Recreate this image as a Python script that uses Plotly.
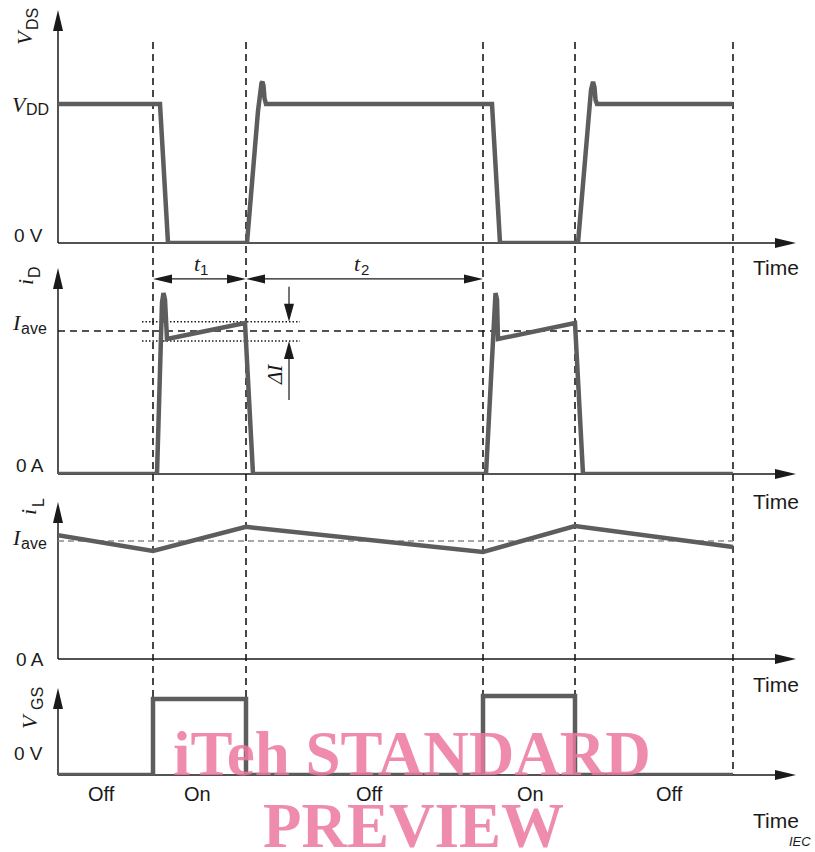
import plotly.graph_objects as go

# ---------------- data (time in arbitrary units, levels normalised) ----------------
switch_times = [9.5, 18.8, 42.5, 51.7, 67.5]          # on1, off1, on2, off2, end

t_vds = [0, 10.2, 11.0, 18.9, 20.0, 20.2, 20.35, 20.45, 20.55, 20.65, 20.8,
         43.4, 44.2, 52.0, 53.1, 53.3, 53.5, 53.65, 53.75, 53.9, 67.5]
v_vds = [1.0, 1.0, 0.0, 0.0, 0.95, 1.08, 1.15, 1.16, 1.13, 1.04, 1.0,
         1.0, 0.0, 0.0, 0.95, 1.1, 1.16, 1.12, 1.03, 1.0, 1.0]

t_id = [0, 9.9, 10.4, 10.55, 10.7, 10.9, 18.7, 19.5,
        42.8, 43.6, 43.75, 43.9, 44.0, 51.7, 52.5, 67.5]
v_id = [0.0, 0.0, 1.2, 1.265, 1.22, 0.944, 1.056, 0.0,
        0.0, 1.2, 1.265, 1.22, 0.944, 1.056, 0.0, 0.0]

t_il = [0, 9.5, 18.8, 42.5, 51.7, 67.5]
v_il = [1.05, 0.915, 1.12, 0.907, 1.127, 0.95]

t_vgs = [0, 9.5, 9.5, 18.8, 18.8, 42.5, 42.5, 51.7, 51.7, 67.5]
v_vgs = [0.0, 0.0, 1.0, 1.0, 0.0, 0.0, 1.04, 1.04, 0.0, 0.0]

i_ave = 1.0
delta_band = [0.93, 1.065]          # lower / upper dotted limits of ΔI
state_labels = ["Off", "On", "Off", "On", "Off"]
state_label_t = [4.3, 13.9, 31.1, 47.2, 61.1]

# ---------------- geometry helpers ----------------
W, H = 815, 852
ML, MR = 58, 19
PW = W - ML - MR
XR = [0, 73.8]
BASE = [243, 474, 659, 775]     # pixel rows of the four zero lines
UNIT = [139, 143, 118, 76]      # pixels per normalised unit
TOP = [10, 268, 502, 688]       # pixel rows of the y-arrow tips


def X(t):
    return ML + (t - XR[0]) / (XR[1] - XR[0]) * PW


def Y(k, v):
    return BASE[k] - v * UNIT[k]


def P(px, py):
    return (px - ML) / PW, 1 - py / H


AX = "#1a1a1a"
TRACE = "#5d5d5d"
shapes = []


def seg(x0, y0, x1, y1, color=AX, width=1.5, dash=None, layer="below"):
    a, b = P(x0, y0)
    c, d = P(x1, y1)
    line = dict(color=color, width=width)
    if dash:
        line["dash"] = dash
    shapes.append(dict(type="line", xref="paper", yref="paper", x0=a, y0=b, x1=c, y1=d,
                       line=line, layer=layer))


def head(tx, ty, dx, dy, L=20, Wd=10, color=AX):
    bx, by = tx - dx * L, ty - dy * L
    px_, py_ = -dy, dx
    pts = [(tx, ty), (bx + px_ * Wd / 2, by + py_ * Wd / 2), (bx - px_ * Wd / 2, by - py_ * Wd / 2)]
    pp = [P(x, y) for x, y in pts]
    path = "M {} {} L {} {} L {} {} Z".format(pp[0][0], pp[0][1], pp[1][0], pp[1][1], pp[2][0], pp[2][1])
    shapes.append(dict(type="path", xref="paper", yref="paper", path=path,
                       fillcolor=color, line=dict(width=0), layer="above"))


# axes with arrows
xtip = X(XR[1])
for k in range(4):
    seg(ML, BASE[k], ML, TOP[k] + 18)
    head(ML, TOP[k], 0, -1, L=21, Wd=10)
    seg(ML, BASE[k], xtip - 18, BASE[k])
    head(xtip, BASE[k], 1, 0, L=21, Wd=10)

# vertical dashed switching lines
for t in switch_times:
    seg(X(t), 42, X(t), BASE[3], width=1.6, dash="7px,5px")

# i_D panel guides
seg(ML, Y(1, i_ave), X(switch_times[-1]), Y(1, i_ave), width=1.6, dash="7px,5px")
for lv in delta_band:
    seg(X(8.4), Y(1, lv), X(24.2), Y(1, lv), width=1.4, dash="1.5px,2px")
xd = X(23.1)
seg(xd, Y(1, 1.31), xd, Y(1, delta_band[1]) - 16, width=1.2)
head(xd, Y(1, delta_band[1]), 0, 1, L=18, Wd=10)
seg(xd, Y(1, 0.517), xd, Y(1, delta_band[0]) + 16, width=1.2)
head(xd, Y(1, delta_band[0]), 0, -1, L=18, Wd=10)

# t1 / t2 dimension arrows
ya = Y(1, 1.364)
for a, b in [(switch_times[0], switch_times[1]), (switch_times[1], switch_times[2])]:
    seg(X(a) + 15, ya, X(b) - 15, ya, width=1.2)
    head(X(a), ya, -1, 0, L=19, Wd=9)
    head(X(b), ya, 1, 0, L=19, Wd=9)

# i_L panel average
seg(ML, Y(2, i_ave), X(switch_times[-1]), Y(2, i_ave), color="#8a8a8a", width=1.5, dash="6px,4px")

# ---------------- figure ----------------
fig = go.Figure()
series = [(t_vds, v_vds), (t_id, v_id), (t_il, v_il), (t_vgs, v_vgs)]
for k, (tx, vy) in enumerate(series):
    sfx = "" if k == 0 else str(k + 1)
    fig.add_trace(go.Scatter(x=tx, y=vy, mode="lines", xaxis="x" + sfx, yaxis="y" + sfx,
                             line=dict(color=TRACE, width=4.5), hoverinfo="skip",
                             showlegend=False))

layout_axes = {}
for k in range(4):
    sfx = "" if k == 0 else str(k + 1)
    layout_axes["xaxis" + sfx] = dict(domain=[0, 1], range=XR, visible=False,
                                      anchor="y" + sfx, fixedrange=True)
    layout_axes["yaxis" + sfx] = dict(domain=[1 - BASE[k] / H, 1 - TOP[k] / H],
                                      range=[0, (BASE[k] - TOP[k]) / UNIT[k]],
                                      visible=False, anchor="x" + sfx, fixedrange=True)

SANS = "Liberation Sans, Arial, sans-serif"
SERIF = "Liberation Serif, Times New Roman, serif"
annotations = []


def ann(px, py, text, size=19, family=SANS, angle=0, color="#1a1a1a",
        style="normal", weight="normal"):
    a, b = P(px, py)
    annotations.append(dict(x=a, y=b, xref="paper", yref="paper", text=text, showarrow=False,
                            xanchor="center", yanchor="middle", textangle=angle,
                            font=dict(family=family, size=size, color=color,
                                      style=style, weight=weight)))


def sym(px, py, s, size=22, angle=0):
    ann(px, py, s, size=size, family=SERIF, angle=angle, style="italic")


# y level labels: italic serif symbol + sans subscript
sym(20, 105, "V", 22)
ann(37, 110, "DD", 16)
ann(28, 235, "0 V", 19)
sym(17, 322, "I", 22)
ann(34, 328, "ave", 16)
ann(30, 465, "0 A", 19)
sym(17, 537, "I", 22)
ann(34, 543, "ave", 16)
ann(30, 659, "0 A", 19)
ann(28, 753, "0 V", 19)

# rotated axis names
sym(24, 37, "V", 22, angle=-90)
ann(32, 19, "DS", 16, angle=-90)
sym(25, 282, "i", 22, angle=-90)
ann(35, 272, "D", 16, angle=-90)
sym(28, 512, "i", 22, angle=-90)
ann(38, 503, "L", 16, angle=-90)
sym(29, 721, "V", 22, angle=-90)
ann(37, 699, "GS", 16, angle=-90)

# dimension labels
sym(197, 263, "t", 22)
ann(204, 269, "1", 15)
sym(357, 263, "t", 22)
ann(365, 269, "2", 15)
sym(275, 375, "ΔI", 21, angle=-90)

# Time labels
for py in [267, 502, 684, 820]:
    ann(776, py, "Time", size=21)

# state labels
for lab, t in zip(state_labels, state_label_t):
    ann(X(t), 794, lab, size=20)

ann(800, 841, "IEC", size=13, style="italic")

# watermark
WM = "rgba(236,120,160,0.85)"
ann(412, 754, "iTeh STANDARD", size=63, family=SERIF, color=WM, weight="bold")
ann(413, 826, "PREVIEW", size=63, family=SERIF, color=WM, weight="bold")

fig.update_layout(width=W, height=H, margin=dict(l=ML, r=MR, t=0, b=0),
                  paper_bgcolor="white", plot_bgcolor="white",
                  shapes=shapes, annotations=annotations, showlegend=False,
                  **layout_axes)

fig.write_html("out.html", config={"displayModeBar": False},
               post_script="document.body.style.margin='0';")
